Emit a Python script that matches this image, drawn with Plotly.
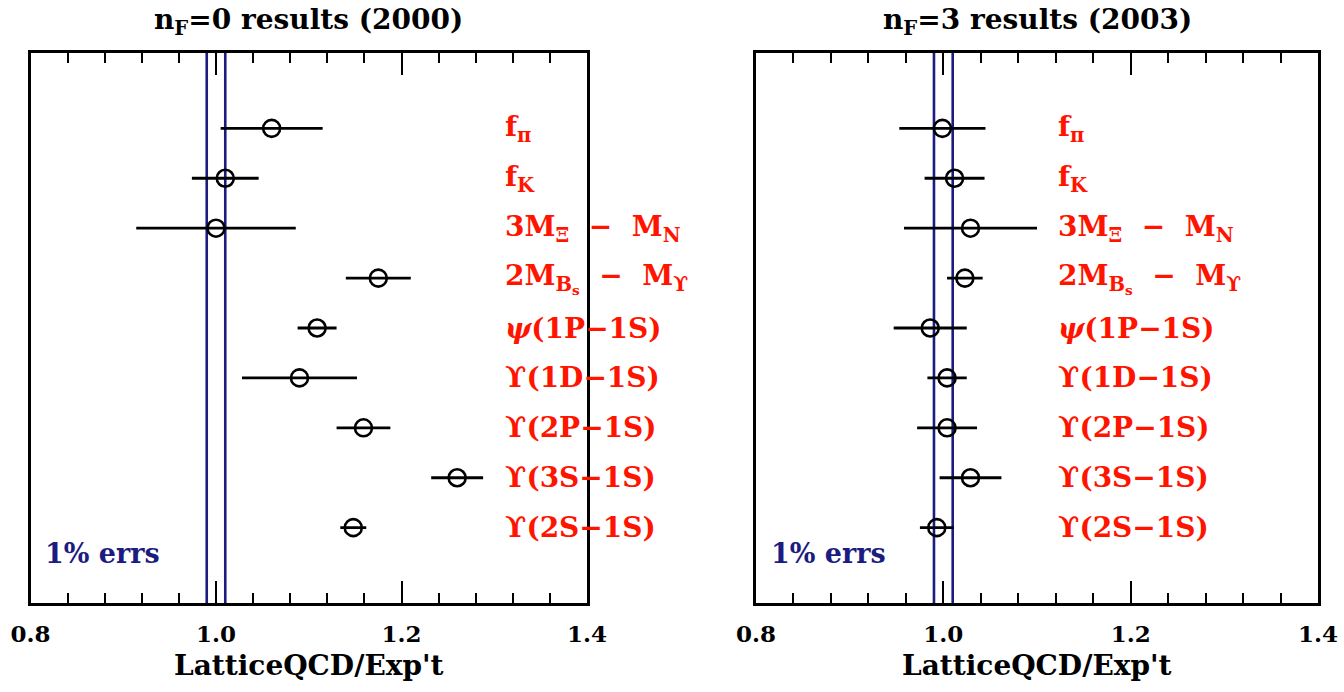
import plotly.graph_objects as go

# ---------------- data ----------------
labels = [
    "f<sub>π</sub>",
    "f<sub>K</sub>",
    "3M<sub>Ξ</sub>  −  M<sub>N</sub>",
    "2M<sub>B<sub>s</sub></sub>  −  M<sub>ϒ</sub>",
    "<i>ψ</i>(1P−1S)",
    "ϒ(1D−1S)",
    "ϒ(2P−1S)",
    "ϒ(3S−1S)",
    "ϒ(2S−1S)",
]
rows = [9, 8, 7, 6, 5, 4, 3, 2, 1]

nf0_values = [1.060, 1.010, 1.000, 1.175, 1.109, 1.090, 1.159, 1.260, 1.148]
nf0_errors = [0.055, 0.036, 0.086, 0.035, 0.021, 0.062, 0.029, 0.028, 0.014]

nf3_values = [0.999, 1.012, 1.029, 1.023, 0.986, 1.004, 1.004, 1.029, 0.993]
nf3_errors = [0.046, 0.032, 0.071, 0.019, 0.039, 0.021, 0.032, 0.033, 0.018]

band_edges = [0.99, 1.01]
panel_titles = ["n<sub>F</sub>=0 results (2000)", "n<sub>F</sub>=3 results (2003)"]
x_title = "LatticeQCD/Exp't"
err_label = "1% errs"
x_ticks = [0.8, 1.0, 1.2, 1.4]

# ---------------- style ----------------
W, H = 1344, 692
FONT = "DejaVu Serif"
RED = "#ff1400"
NAVY = "#1c1c80"

def px(v):
    return v / W

def py(v):
    return 1 - v / H

dom_left = [px(30.5), px(587)]
dom_right = [px(756), px(1318)]
dom_y = [py(603), py(53)]

fig = go.Figure()

for i, (vals, errs, xa, ya) in enumerate([
    (nf0_values, nf0_errors, "x", "y"),
    (nf3_values, nf3_errors, "x2", "y2"),
]):
    fig.add_trace(go.Scatter(
        x=vals, y=rows, xaxis=xa, yaxis=ya, mode="markers",
        marker=dict(symbol="circle-open", size=17, color="black",
                    line=dict(width=2.6, color="black")),
        error_x=dict(type="data", array=errs, visible=True, thickness=2.8,
                     width=0, color="black"),
        showlegend=False, hoverinfo="skip",
    ))
    for e in band_edges:
        fig.add_shape(type="line", xref=xa, yref=f"{ya} domain",
                      x0=e, x1=e, y0=0, y1=1,
                      line=dict(color=NAVY, width=2.6), layer="below")

axis_common = dict(
    range=[0.8, 1.4], showgrid=False, zeroline=False, automargin=False,
    showline=True, linecolor="black", linewidth=3, mirror="ticks",
    ticks="inside", ticklen=22, tickwidth=2.2, tickcolor="black",
    tickvals=x_ticks, tickformat=".1f",
    tickfont=dict(family=FONT, size=23, color="black", weight="bold"),
    ticklabelstandoff=8,
    minor=dict(ticks="inside", ticklen=10, tickwidth=2.2, dtick=0.04,
               tick0=0.8, tickcolor="black", showgrid=False),
)
yaxis_common = dict(
    range=[-0.51, 10.51], showgrid=False, zeroline=False, automargin=False,
    showline=True, linecolor="black", linewidth=3, mirror=True,
    ticks="", showticklabels=False, domain=dom_y,
)

fig.update_layout(
    width=W, height=H,
    margin=dict(l=0, r=0, t=0, b=0, pad=0),
    paper_bgcolor="white", plot_bgcolor="white",
    xaxis=dict(domain=dom_left, anchor="y", **axis_common),
    yaxis=dict(anchor="x", **yaxis_common),
    xaxis2=dict(domain=dom_right, anchor="y2", **axis_common),
    yaxis2=dict(anchor="x2", **yaxis_common),
)

annotations = []
label_x = [1.309, 1.120]
for k, (xa, ya) in enumerate([("x", "y"), ("x2", "y2")]):
    for lab, r in zip(labels, rows):
        annotations.append(dict(
            x=label_x[k], y=r, xref=xa, yref=ya, text=lab, showarrow=False,
            xanchor="left", yanchor="middle",
            font=dict(family=FONT, size=28, color=RED, weight="bold"),
        ))
    annotations.append(dict(
        x=0.814, y=0.49, xref=xa, yref=ya, text=err_label, showarrow=False,
        xanchor="left", yanchor="middle",
        font=dict(family=FONT, size=27, color=NAVY, weight="bold"),
    ))

centers = [(dom_left[0] + dom_left[1]) / 2, (dom_right[0] + dom_right[1]) / 2]
for k, c in enumerate(centers):
    annotations.append(dict(
        x=c, y=py(22), xref="paper", yref="paper", text=panel_titles[k],
        showarrow=False, xanchor="center", yanchor="middle",
        font=dict(family=FONT, size=28, color="black", weight="bold"),
    ))
    annotations.append(dict(
        x=c, y=py(665), xref="paper", yref="paper", text=x_title,
        showarrow=False, xanchor="center", yanchor="middle",
        font=dict(family=FONT, size=28, color="black", weight="bold"),
    ))

fig.update_layout(annotations=annotations)

fig.write_html("out.html")
